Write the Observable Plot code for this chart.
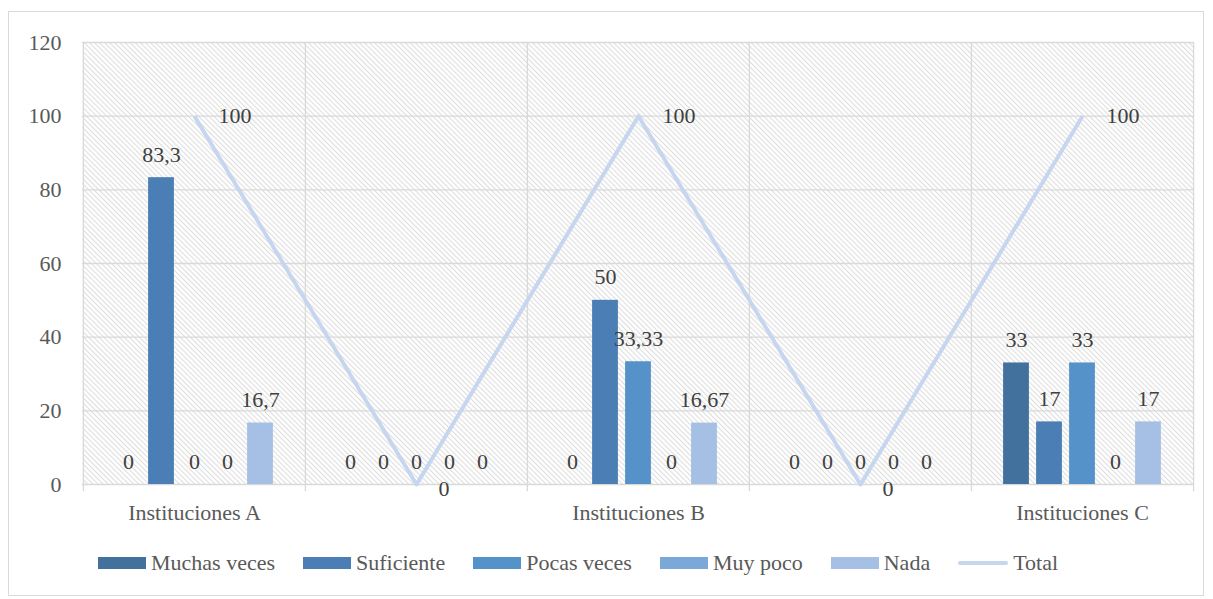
<!DOCTYPE html>
<html>
<head>
<meta charset="utf-8">
<script src="https://cdn.jsdelivr.net/npm/d3@7"></script>
<script src="https://cdn.jsdelivr.net/npm/@observablehq/plot@0.6"></script>
<style>
  html, body { margin: 0; padding: 0; background: #fff; }
  #wrap { position: relative; width: 1213px; height: 599px; font-family: 'Liberation Serif', 'Times New Roman', Times, 'Nimbus Roman', 'Nimbus Roman No9 L', FreeSerif, 'Noto Serif', 'DejaVu Serif', Tinos, serif; }
  #border { position: absolute; left: 8px; top: 11px; width: 1196px; height: 585px; border: 1.5px solid #d9d9d9; box-sizing: border-box; pointer-events: none; }
  #chart svg { display: block; }
  #legend { position: absolute; left: 98px; top: 540px; height: 46px; display: flex; align-items: center; gap: 28px; font-size: 22px; color: #595959; }
  .item { display: flex; align-items: center; gap: 5px; }
  .sw { width: 48px; height: 12px; }
  .ln { width: 50px; height: 4px; border-radius: 2px; }
</style>
</head>
<body>
<div id="wrap">
  <div id="chart"></div>
  <div id="legend"></div>
  <div id="border"></div>
</div>
<script>
const categories = ["Instituciones A", "", "Instituciones B", "", "Instituciones C"];
const seriesNames = ["Muchas veces", "Suficiente", "Pocas veces", "Muy poco", "Nada"];
const muchasVeces = [0, 0, 0, 0, 33];
const suficiente = [83.3, 0, 50, 0, 17];
const pocasVeces = [0, 0, 33.33, 0, 33];
const muyPoco = [0, 0, 0, 0, 0];
const nada = [16.7, 0, 16.67, 0, 17];
const total = [100, 0, 100, 0, 100];
const yTicks = [0, 20, 40, 60, 80, 100, 120];
const colors = ["#41719C", "#4A7EB4", "#5592C9", "#7AA8D9", "#A5C0E4"];
const totalColor = "#C5D6EE";
const totalName = "Total";

const seriesValues = [muchasVeces, suficiente, pocasVeces, muyPoco, nada];
const idx = categories.map((_, i) => i);
const fmt = v => String(v).replace(".", ",");

const W = 1213, H = 540, mL = 82, mR = 20, mT = 42, mB = 56;
const bw = (W - mL - mR) / categories.length;
const barW = 26, step = 33;
const inset = (bw - barW) / 2;
const grid = "#d9d9d9";
const labelColor = "#404040";
const FONT = "'Liberation Serif', 'Times New Roman', Times, 'Nimbus Roman', 'Nimbus Roman No9 L', FreeSerif, 'Noto Serif', 'DejaVu Serif', Tinos, serif";

const marks = [
  Plot.frame({fill: "#ffffff", stroke: null}),
  Plot.ruleY(yTicks, {y: d => d, stroke: grid, strokeWidth: 1.3}),
  Plot.ruleX(idx, {x: d => d, dx: -bw / 2, y1: -2, y2: 120, stroke: grid, strokeWidth: 1.3}),
  Plot.ruleX([idx[idx.length - 1]], {x: d => d, dx: bw / 2, y1: -2, y2: 120, stroke: grid, strokeWidth: 1.3}),
];
seriesValues.forEach((vals, s) => {
  marks.push(Plot.barY(idx, {x: d => d, y: d => vals[d], fill: colors[s], dx: (s - 2) * step, insetLeft: inset, insetRight: inset}));
});
marks.push(Plot.line(idx, {x: d => d, y: d => total[d], stroke: totalColor, strokeWidth: 4, strokeLinecap: "butt"}));
seriesValues.forEach((vals, s) => {
  marks.push(Plot.text(idx, {x: d => d, y: d => vals[d], text: d => fmt(vals[d]), dx: (s - 2) * step, dy: -23, fill: labelColor, fontSize: 22}));
});
marks.push(Plot.text(idx.filter(d => total[d] > 0), {x: d => d, y: d => total[d], text: d => fmt(total[d]), textAnchor: "start", dx: 24, fill: labelColor, fontSize: 22}));
marks.push(Plot.text(idx.filter(d => total[d] === 0), {x: d => d, y: d => total[d], text: d => fmt(total[d]), textAnchor: "start", dx: 22, dy: 4, fill: labelColor, fontSize: 22}));
marks.push(Plot.axisX({tickSize: 0, tickPadding: 20, tickFormat: i => categories[i], fontSize: 22, color: "#595959", label: null}));
marks.push(Plot.axisY({ticks: yTicks, tickSize: 0, tickPadding: 21, fontSize: 22, color: "#595959", label: null}));

const chart = Plot.plot({
  width: W, height: H,
  marginLeft: mL, marginRight: mR, marginTop: mT, marginBottom: mB,
  style: {fontSize: "22px", background: "transparent", overflow: "visible"},
  x: {type: "band", domain: idx, padding: 0, axis: null},
  y: {domain: [0, 120], axis: null},
  marks
});

// hatch pattern
const svg = d3.select(chart);
const defs = svg.insert("defs", ":first-child");
const pat = defs.append("pattern")
  .attr("id", "hatch").attr("patternUnits", "userSpaceOnUse")
  .attr("width", 3.6).attr("height", 3.6)
  .attr("patternTransform", "rotate(-45)");
pat.append("rect").attr("width", 3.6).attr("height", 3.6).attr("fill", "#ffffff");
pat.append("rect").attr("width", 1.1).attr("height", 3.6).attr("fill", "#dedede");
svg.selectAll('[aria-label="frame"]').each(function() {
  const el = d3.select(this);
  if (this.tagName.toLowerCase() === "rect") el.attr("fill", "url(#hatch)");
  el.selectAll("rect").attr("fill", "url(#hatch)");
});
svg.style("font-family", FONT);
svg.selectAll("text").style("font-family", FONT);

document.getElementById("chart").appendChild(chart);

// legend
const legend = d3.select("#legend");
seriesNames.forEach((name, s) => {
  const it = legend.append("div").attr("class", "item");
  it.append("div").attr("class", "sw").style("background", colors[s]);
  it.append("span").text(name);
});
const lt = legend.append("div").attr("class", "item");
lt.append("div").attr("class", "ln").style("background", totalColor);
lt.append("span").text(totalName);
</script>
</body>
</html>
